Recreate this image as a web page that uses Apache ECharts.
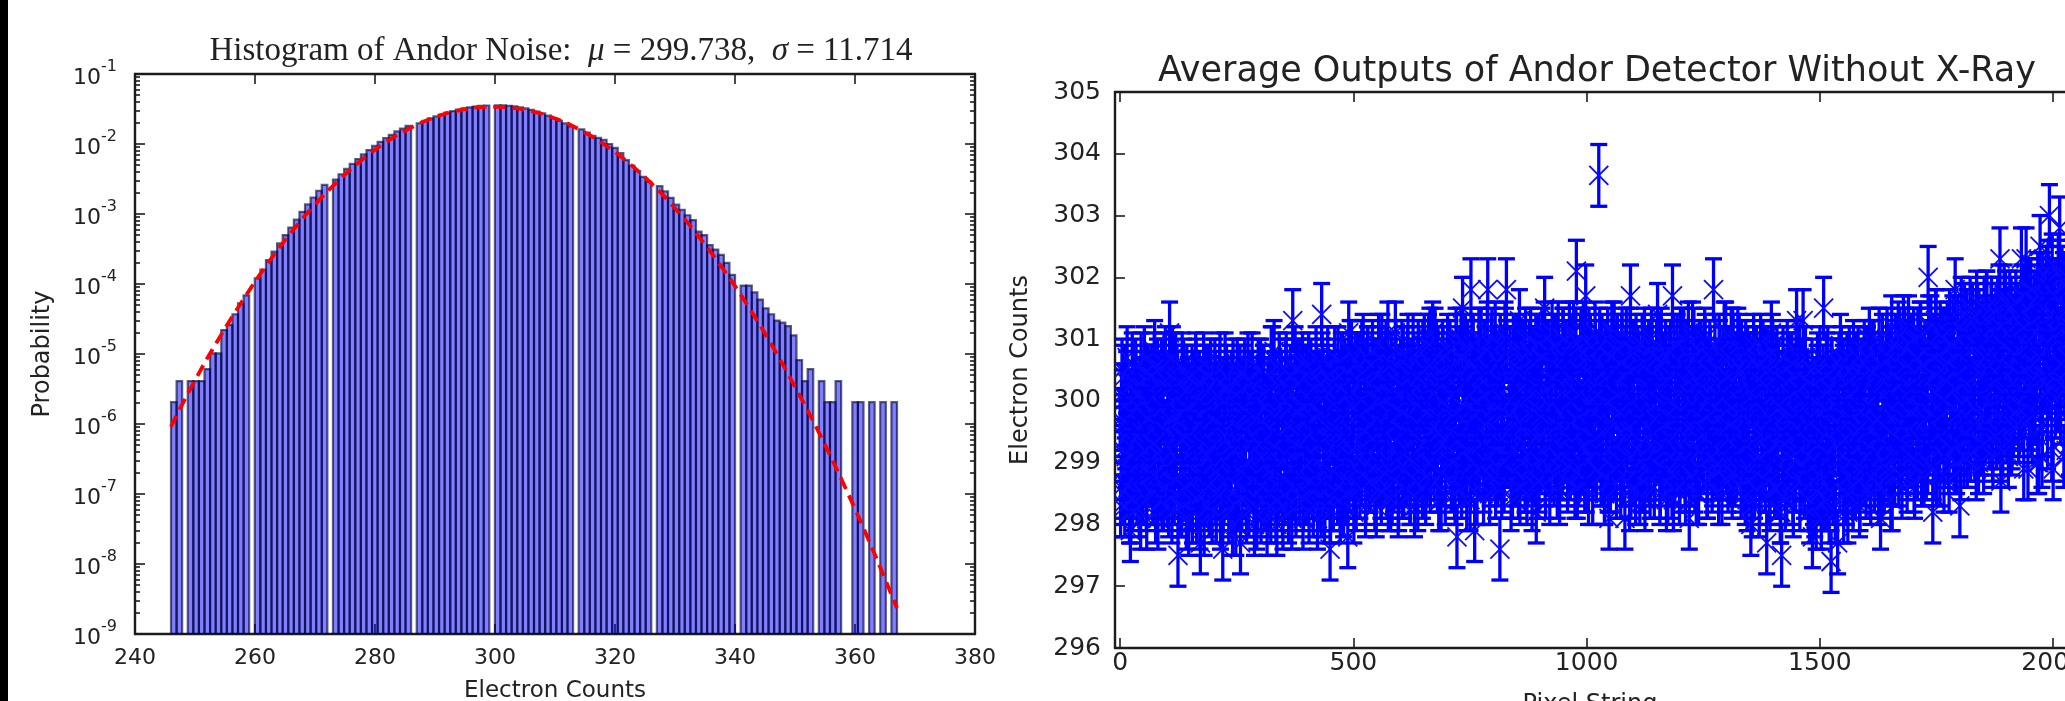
<!DOCTYPE html>
<html><head><meta charset="utf-8">
<script src="https://cdn.jsdelivr.net/npm/echarts@6/dist/echarts.min.js"></script>
<style>html,body{margin:0;padding:0;background:#fff;}#c{width:2065px;height:701px;}</style>
</head><body><div id="c"></div><script>
// ---------- Left chart: histogram (130 bins between 246 and 367, null = empty bin) ----------
const histStart = 246, histEnd = 367, histBinCount = 130;
const histDensity = [
  2.05e-6, 4.1e-6, null, 4.1e-6, 4.1e-6, 4.1e-6, 6.1e-6, 1.02e-5, 1.02e-5, 2.2e-5,
  2.6e-5, 3.7e-5, 5.3e-5, 6.9e-5, null, 1.2e-4, 1.6e-4, 2.2e-4, 2.9e-4, 3.8e-4,
  5.0e-4, 6.4e-4, 8.3e-4, 1.07e-3, 1.37e-3, 1.72e-3, 2.15e-3, 2.6e-3, null, 3.1e-3,
  3.7e-3, 4.4e-3, 5.2e-3, 6.1e-3, 7.1e-3, 8.2e-3, 9.4e-3, 0.0107, 0.0121, 0.0135,
  0.0151, 0.0166, 0.0182, null, 0.0198, 0.0215, 0.0232, 0.0248, 0.0264, 0.0280,
  0.0295, 0.0309, 0.0322, 0.0334, 0.0343, 0.0350, 0.0355, null, 0.0357, 0.0356,
  0.0352, 0.0345, 0.0335, 0.0322, 0.0308, 0.0291, 0.0273, 0.0254, 0.0235, 0.0216,
  0.0197, 0.0179, null, 0.0162, 0.0146, 0.0131, 0.0122, 0.0115, 0.0100, 0.0088,
  0.0074, 0.0059, 0.0049, 0.0041, 0.0034, 0.0029, null, 0.0025, 0.0021, 0.0017,
  0.00136, 0.00115, 0.00096, 0.00082, 0.00056, 0.00050, 0.00036, 0.00031, 0.00026, 0.00020,
  0.000135, null, 9.5e-5, 9.5e-5, 7.6e-5, 6.0e-5, 4.5e-5, 3.7e-5, 3.0e-5, 2.8e-5,
  2.5e-5, 1.85e-5, 8.2e-6, 4.1e-6, 6.1e-6, null, 4.1e-6, 2.05e-6, 2.05e-6, 4.1e-6,
  null, null, 2.05e-6, 2.05e-6, null, 2.05e-6, null, 2.05e-6, null, 2.05e-6
];
// red dashed fitted curve
const fitCounts  = [246, 250, 254, 258, 262, 266, 270, 274, 278, 282, 286, 290, 294, 298, 300, 302, 306, 310, 314, 318, 322, 326, 330, 334, 338, 342, 346, 350, 354, 358, 362, 366, 367];
const fitDensity = [9.2e-7, 4.2e-6, 1.67e-5, 5.9e-5, 1.9e-4, 5.4e-4, 1.36e-3, 3.05e-3, 6.1e-3, 0.0108, 0.0171, 0.0241, 0.0302, 0.0337, 0.0340, 0.0334, 0.0295, 0.0232, 0.0162, 0.0101, 5.6e-3, 2.76e-3, 1.21e-3, 4.7e-4, 1.64e-4, 5.1e-5, 1.4e-5, 3.4e-6, 7.5e-7, 1.45e-7, 2.5e-8, 3.8e-9, 2.35e-9];
const leftXTicks = [240, 260, 280, 300, 320, 340, 360, 380];
const leftYDecades = [1e-9, 1e-8, 1e-7, 1e-6, 1e-5, 1e-4, 1e-3, 1e-2, 1e-1];

// ---------- Right chart: average output of each pixel string, +/- error ----------
const errorHalf = 0.5;
// pixel strings 0, 2, 4, ... 2046
const outputsEvenStrings = [
299.7,298.6,300.5,299.2,300.0,298.3,299.4,300.3,298.9,299.6,298.2,297.9,299.1,300.6,298.7,299.8,299.3,300.4,298.5,299.9,299.0,300.2,298.1,299.5,300.0,298.8,300.7,299.2,298.4,299.7,300.3,299.0,
298.9,300.4,299.3,298.5,299.8,300.8,298.2,299.6,300.5,298.8,299.4,299.1,300.2,298.4,299.9,300.6,298.6,299.5,299.0,300.3,298.3,301.1,299.7,298.7,300.7,299.2,298.5,299.8,299.4,300.4,297.5,300.1,
300.1,299.0,298.3,299.8,300.5,298.6,299.4,298.1,299.9,300.2,298.9,299.5,298.4,300.4,299.2,298.7,300.0,300.6,298.2,299.6,298.8,300.3,297.7,298.5,299.7,299.3,298.0,300.2,299.9,298.6,299.5,300.4,
299.1,300.5,298.4,299.7,298.7,299.3,300.3,298.2,300.0,298.9,299.6,300.6,298.5,299.4,297.6,300.2,299.8,299.0,300.4,298.6,299.5,298.3,300.1,298.8,299.3,300.5,299.2,299.9,298.0,299.7,300.3,298.4,
299.9,297.7,299.5,300.2,298.8,300.4,299.0,298.5,299.7,300.6,298.3,299.3,300.0,298.7,300.3,299.1,298.0,299.8,299.4,298.4,300.5,298.9,300.1,298.2,299.6,298.6,300.4,299.2,299.9,299.0,298.3,300.2,
298.5,299.8,300.7,298.8,299.5,300.8,299.2,298.2,298.0,299.7,298.6,300.5,299.0,300.3,298.3,299.4,300.0,298.7,300.6,299.1,299.6,298.4,300.2,299.9,298.1,301.3,298.9,299.5,298.6,300.5,299.2,299.8,
300.5,298.8,299.4,300.2,298.1,299.9,299.2,300.4,298.5,299.7,300.6,299.0,298.7,300.0,299.5,298.3,300.3,299.1,300.7,298.6,299.8,299.3,300.1,298.4,301.4,300.5,298.9,298.2,300.2,299.4,298.8,300.4,
299.1,297.6,298.4,299.6,300.2,298.8,300.7,299.3,300.0,298.5,300.3,299.5,298.2,300.6,299.0,299.8,298.7,300.5,299.4,300.1,297.8,301.1,300.4,298.9,300.8,299.2,298.6,299.9,300.6,298.4,300.2,299.4,
299.8,298.6,300.3,300.8,299.2,299.5,300.5,298.3,300.1,300.7,298.9,299.9,298.7,299.6,300.6,299.1,300.2,298.4,300.4,299.7,299.3,300.9,298.8,300.0,298.5,300.5,299.4,300.3,299.0,300.8,298.6,301.1,
298.9,300.1,298.4,300.6,299.9,298.7,299.6,301.1,299.2,300.3,298.3,300.4,299.8,299.0,300.8,299.5,298.6,300.2,300.0,298.8,300.7,299.3,299.7,298.5,300.5,299.1,300.9,299.4,298.7,300.2,299.9,298.4,
300.7,299.6,298.9,300.3,298.6,300.1,300.9,299.2,299.8,298.8,300.6,299.4,301.0,299.0,299.9,301.1,300.5,299.7,299.1,300.8,298.7,300.2,299.5,300.4,298.4,300.0,300.7,299.3,300.3,298.9,299.8,300.9,
299.4,300.8,300.1,298.7,300.5,299.1,299.8,298.5,301.0,297.8,300.2,298.9,300.7,299.3,298.6,301.5,299.7,298.8,300.9,300.0,299.2,300.6,299.6,298.4,301.8,300.8,299.0,299.9,297.9,300.5,299.3,299.8,
300.5,298.9,299.9,301.0,299.3,300.1,298.7,300.7,299.6,300.8,301.8,300.4,298.5,300.2,300.9,299.5,299.0,299.9,301.1,299.2,300.0,298.8,300.6,297.6,300.3,298.6,300.7,299.8,299.1,301.0,301.8,299.3,
299.1,300.0,300.7,298.4,300.3,299.6,300.5,298.8,299.9,300.9,299.3,298.6,301.3,299.7,299.1,300.8,299.5,300.6,298.7,300.1,298.5,300.3,299.8,298.9,301.0,299.4,299.2,300.7,298.8,299.9,298.2,298.6,
300.2,298.7,300.7,299.5,301.0,299.1,299.8,301.5,298.6,300.0,300.8,299.3,300.6,298.9,299.9,301.1,299.4,298.8,300.3,300.9,299.6,299.1,300.7,298.5,300.1,300.5,299.0,301.0,299.7,299.2,300.8,299.5,
298.8,300.4,299.6,300.9,299.0,300.2,301.1,299.3,299.7,302.1,298.6,300.1,300.5,298.9,301.0,299.5,299.8,300.8,298.7,301.7,299.2,300.6,298.5,300.0,300.9,299.4,300.4,299.1,299.9,301.1,298.9,300.2,
300.3,303.65,301.0,299.7,298.8,300.6,300.0,298.5,300.8,299.4,300.4,298.7,298.1,300.7,299.2,301.1,299.6,298.9,300.5,300.1,298.6,300.9,299.3,299.8,300.6,299.0,301.0,299.5,300.2,298.1,300.7,299.7,
299.6,300.5,298.4,301.7,300.0,298.8,300.8,299.5,299.0,300.9,299.7,299.2,300.6,298.5,300.1,300.4,298.7,299.8,301.0,299.1,299.4,300.7,298.9,300.2,298.6,299.9,300.9,299.3,300.4,298.8,299.7,300.8,
301.4,299.3,300.0,298.6,301.0,299.6,298.9,300.4,299.2,300.7,299.9,298.5,300.3,299.4,300.8,298.8,301.7,298.4,299.7,300.5,299.0,300.9,299.5,300.1,298.7,300.6,299.1,299.8,301.0,299.2,298.5,300.3,
299.0,301.1,298.1,300.0,298.8,300.5,299.5,301.0,298.7,300.2,300.7,299.7,298.5,300.8,299.2,300.1,300.6,299.0,299.9,300.9,299.4,298.6,300.4,299.8,300.8,299.1,300.1,298.8,301.8,299.6,300.3,298.9,
299.9,299.2,300.9,298.9,300.3,298.5,300.7,299.8,299.4,301.1,299.0,300.4,299.6,298.8,300.6,301.0,298.6,300.9,299.3,300.5,299.7,298.9,301.0,299.2,300.2,299.5,300.8,298.7,299.8,300.6,298.5,300.4,
298.4,300.3,299.3,300.6,298.0,298.8,300.1,300.9,298.6,299.5,300.7,299.0,300.0,298.3,300.5,299.7,298.9,300.8,299.4,300.2,298.7,297.7,300.7,299.2,298.5,300.4,301.1,300.9,299.5,298.8,300.0,300.6,
300.7,299.3,298.6,299.9,298.2,297.5,298.9,299.6,300.3,298.4,299.8,300.8,299.1,298.8,300.1,299.4,300.6,298.5,299.7,300.4,299.0,301.3,300.2,299.2,300.7,299.5,298.7,300.0,301.3,300.5,298.9,299.7,
298.9,300.3,299.6,298.2,300.1,299.1,297.8,298.5,299.4,300.0,298.1,300.4,299.3,298.8,300.7,298.6,299.8,299.2,301.5,298.4,299.9,300.6,298.7,299.5,298.2,300.2,297.4,300.5,298.5,299.7,299.3,300.1,
300.3,297.7,300.0,299.6,300.9,300.7,299.1,300.4,298.5,299.8,299.4,300.6,298.2,300.1,299.0,300.5,299.7,298.7,300.8,299.2,298.6,300.2,298.9,300.7,299.5,298.4,299.9,300.4,299.3,298.8,300.6,299.1,
299.5,300.7,299.0,301.0,298.6,299.9,300.3,299.2,300.8,298.8,300.5,299.4,299.7,298.5,300.6,298.1,299.1,300.9,299.6,298.7,300.4,299.3,301.0,298.9,300.0,300.7,298.4,301.2,300.3,299.2,298.8,300.9,
300.5,299.6,301.1,299.1,300.0,300.8,298.6,300.3,299.3,301.0,299.7,300.6,298.9,301.2,299.5,299.8,300.9,299.2,300.4,298.7,300.7,300.1,299.0,301.0,299.4,299.9,301.1,298.8,300.2,300.6,299.3,299.7,
298.9,300.4,302.0,300.9,299.4,301.2,300.0,298.2,300.7,299.7,301.3,298.8,300.5,300.2,299.2,301.1,299.5,300.8,299.8,298.7,301.0,299.3,300.4,300.6,299.0,301.3,299.9,299.6,300.9,299.2,300.2,301.8,
300.5,299.3,301.2,299.8,298.3,298.9,300.8,300.3,299.5,301.4,300.0,301.1,299.1,300.6,299.7,301.5,299.4,300.2,301.3,299.9,299.2,300.9,301.6,301.4,299.0,300.7,301.1,299.6,300.4,299.3,301.5,299.8,
299.7,301.6,300.0,301.0,299.4,300.6,301.5,299.2,301.2,300.3,299.8,301.4,300.7,299.5,301.7,302.3,298.7,301.3,299.3,300.9,300.2,301.6,299.6,301.1,299.1,300.8,300.1,301.5,299.4,300.5,301.2,299.8,
301.6,300.1,300.7,299.5,301.3,300.4,302.3,299.7,300.9,301.7,299.9,302.3,301.5,298.9,301.1,300.2,301.8,299.6,301.2,300.6,299.8,301.6,300.3,299.0,301.7,300.8,302.5,301.4,299.1,301.9,300.4,301.1,
300.6,302.0,299.4,301.4,303.0,301.8,300.2,302.2,298.9,301.3,301.7,300.4,301.1,300.0,302.1,302.8,299.8,301.6,300.9,301.9,300.3,301.2,299.2,302.0,300.5,301.5,301.8,300.1,301.0,299.3,302.1,300.6
];
// pixel strings 1, 3, 5, ... 2047
const outputsOddStrings = [
298.3,300.1,299.6,298.5,300.4,298.9,299.1,300.7,298.6,299.5,300.0,298.2,299.8,298.4,300.3,299.2,300.5,298.8,299.4,300.1,298.3,299.0,300.6,299.6,298.5,300.2,299.3,300.0,298.1,300.4,299.7,298.8,
299.1,300.4,298.8,299.3,300.6,298.6,300.1,299.7,298.1,300.3,298.7,299.2,300.5,299.9,298.4,299.0,300.7,299.5,298.5,300.2,298.9,300.4,299.6,298.2,300.0,299.4,298.7,300.6,299.1,300.3,298.3,299.8,
299.7,298.4,300.6,299.4,298.6,299.9,298.9,300.4,299.5,298.0,300.1,298.7,299.8,298.2,300.3,299.3,299.0,300.5,298.4,300.0,299.6,298.1,300.2,299.2,298.8,300.6,299.7,298.5,300.4,299.1,299.9,298.3,
299.2,300.2,298.2,299.7,299.0,300.5,298.5,300.1,299.3,298.8,300.4,298.1,299.6,300.0,298.4,299.1,300.6,298.7,300.2,299.4,298.2,299.9,298.9,300.3,298.0,299.5,300.1,298.3,299.2,300.5,298.6,299.8,
300.4,299.3,298.4,300.0,298.9,300.5,299.5,298.2,299.8,298.5,300.3,299.0,298.7,300.6,299.4,298.3,300.0,299.7,298.1,300.2,298.8,299.3,300.5,298.6,299.1,300.4,298.4,299.6,299.9,298.0,300.1,299.2,
300.0,298.2,298.9,300.7,299.5,298.8,300.3,298.4,299.8,299.2,300.6,298.7,300.2,299.4,298.1,299.9,298.5,300.5,299.1,300.0,298.2,299.6,300.4,298.9,300.1,298.6,299.3,300.7,298.3,299.7,299.0,300.3,
298.5,299.9,299.2,300.6,298.4,299.7,298.7,300.4,299.4,300.0,298.2,299.0,300.5,299.5,298.6,300.2,299.7,298.8,300.4,298.1,299.3,300.3,299.8,298.3,300.6,299.1,300.1,298.4,299.6,298.9,300.7,298.6,
300.1,298.2,300.3,299.5,298.4,300.5,299.2,299.9,298.9,300.7,298.6,299.4,300.2,299.0,300.6,298.3,299.7,300.3,298.5,299.3,300.1,298.7,300.8,299.1,299.5,300.4,298.2,300.0,298.6,300.6,298.9,299.6,
300.6,300.0,298.8,299.5,300.9,299.1,300.4,298.5,299.2,300.7,299.9,298.7,300.2,299.4,300.8,298.9,299.7,300.5,298.3,300.0,299.0,300.7,299.5,298.6,300.9,300.1,298.8,299.6,300.6,299.3,300.3,298.4,
299.8,299.0,300.6,298.5,300.1,298.8,299.6,300.8,299.3,300.3,298.4,299.1,300.5,299.8,298.6,300.7,299.5,300.2,298.9,299.2,300.9,299.9,298.5,300.4,299.7,299.0,300.6,298.3,300.0,298.7,299.4,300.8,
300.4,299.6,300.0,298.8,300.8,299.3,300.5,298.5,299.8,299.0,300.9,300.2,298.7,300.6,299.5,300.1,298.9,301.0,299.1,299.6,300.7,298.4,300.3,299.7,298.8,300.8,299.4,300.4,298.5,299.9,300.6,299.2,
299.3,300.8,299.0,299.5,300.6,300.1,298.6,299.7,300.9,299.1,300.4,298.8,299.4,301.0,298.9,299.9,300.7,299.2,300.3,298.4,300.8,299.6,300.0,298.7,300.6,299.3,300.9,299.0,299.8,300.2,298.5,300.5,
301.0,298.9,299.3,300.4,299.9,298.5,300.8,300.1,299.0,301.1,299.4,300.5,298.8,299.7,301.0,299.2,300.2,300.7,298.6,299.8,299.5,300.6,298.9,300.9,299.3,300.4,300.0,298.7,301.1,299.1,300.8,299.6,
299.5,299.1,300.4,300.0,298.6,300.9,299.7,299.2,300.8,298.8,299.9,300.5,298.5,300.2,299.0,300.7,299.6,299.3,301.0,298.7,300.4,299.5,300.8,299.1,300.1,298.4,300.6,299.8,298.9,300.9,299.4,300.3,
300.9,300.0,299.0,300.7,299.4,299.7,301.1,298.8,300.4,300.2,299.1,300.8,298.5,299.6,300.6,299.3,300.9,299.0,300.0,300.3,298.6,301.1,299.5,300.5,298.9,299.8,301.0,299.2,300.7,299.7,300.2,298.7,
299.4,301.1,298.9,300.0,299.2,300.7,300.3,298.6,301.0,299.7,300.5,298.8,299.5,300.9,299.8,299.0,301.1,299.3,300.2,298.7,300.7,299.6,301.0,299.1,299.9,300.4,298.5,300.6,299.4,300.8,298.9,300.1,
299.2,300.6,299.9,298.8,300.9,299.5,300.2,298.5,300.5,299.0,301.0,299.6,300.3,298.7,300.7,299.9,299.3,301.1,298.9,300.1,300.8,299.2,299.7,300.6,298.6,300.9,300.0,298.8,300.4,299.4,301.0,299.1,
300.2,299.5,301.0,298.6,300.5,299.1,299.9,300.8,298.5,299.4,300.7,298.9,299.7,300.3,298.7,300.9,299.3,300.2,298.4,300.6,299.6,299.0,300.8,300.0,298.8,301.0,299.5,300.4,298.6,299.8,299.2,300.7,
299.4,300.9,298.5,299.8,298.9,300.6,300.3,299.3,300.8,298.4,300.0,299.1,300.7,299.7,300.4,298.6,299.5,300.9,298.8,299.9,299.2,300.5,300.1,298.5,301.0,299.0,300.6,299.6,300.2,298.7,300.8,299.4,
299.4,300.7,300.1,298.8,299.6,301.1,299.2,300.4,299.9,298.5,300.6,299.4,300.3,298.9,300.8,299.7,300.2,299.1,301.0,299.5,300.5,298.6,300.0,299.3,300.7,299.8,298.7,300.4,299.6,300.9,299.0,300.1,
300.5,298.5,300.8,299.8,300.2,298.9,299.6,301.1,299.1,300.1,300.4,298.7,300.7,299.4,299.9,299.0,301.0,300.3,298.8,300.6,299.5,299.8,299.2,300.9,300.0,298.6,300.5,300.2,298.9,299.7,300.8,299.3,
300.7,299.8,298.9,300.2,300.5,298.3,299.6,300.0,298.8,299.4,300.6,299.1,299.9,298.5,300.9,300.3,299.0,299.5,300.7,298.7,299.8,299.2,300.5,300.2,298.4,299.7,298.9,300.8,300.1,298.6,299.3,300.4,
298.6,300.5,299.9,298.2,300.1,299.4,300.7,299.5,299.0,300.3,298.5,299.7,298.8,300.6,299.2,300.0,300.4,298.3,299.6,298.7,300.8,299.8,299.1,300.2,298.4,300.5,299.5,298.9,299.9,298.6,300.7,299.3,
300.3,298.4,299.1,300.0,299.3,300.5,298.7,299.7,298.3,300.2,299.0,300.6,298.5,299.5,299.9,298.1,299.2,300.4,298.8,300.1,299.4,298.4,300.7,299.8,298.6,299.1,300.5,298.9,300.3,299.6,298.2,300.0,
299.9,299.3,300.6,298.7,299.6,299.0,300.5,298.2,300.0,300.3,298.5,299.7,299.2,300.7,298.8,300.1,299.5,298.4,300.4,299.1,300.6,298.7,299.8,300.2,298.3,299.3,300.5,299.6,298.9,300.8,299.9,298.6,
300.7,299.1,299.7,300.5,298.5,299.2,300.8,299.9,298.7,300.4,299.6,300.1,298.9,301.0,299.4,300.6,298.6,299.8,300.3,299.0,299.3,300.9,300.0,298.8,300.7,299.5,300.2,298.4,300.5,299.7,299.1,300.8,
299.8,300.6,298.8,301.0,300.3,299.0,299.6,301.2,299.3,300.8,300.1,298.7,300.5,299.8,300.9,299.1,300.2,299.4,301.0,298.6,299.9,300.7,298.9,300.4,299.7,301.1,299.2,300.6,300.0,298.8,300.8,299.5,
300.5,299.0,301.2,299.4,300.7,299.8,300.9,298.9,300.4,299.2,301.3,299.7,300.1,300.8,298.8,300.6,299.5,301.0,300.0,299.1,300.3,299.3,301.1,300.5,298.7,300.9,299.9,299.6,301.2,300.7,299.0,300.2,
299.0,300.5,300.8,299.3,300.0,301.5,299.7,301.1,299.1,300.3,299.9,301.3,299.4,300.6,300.8,299.2,300.1,301.4,299.6,300.4,301.0,298.9,300.9,299.8,301.3,300.2,299.3,300.5,301.2,299.0,300.7,299.5,
301.6,300.5,299.6,301.0,300.0,301.4,300.7,299.1,301.1,300.2,300.9,299.4,301.5,299.8,300.4,301.2,299.2,300.6,299.7,301.7,300.1,301.3,299.5,300.5,299.9,301.6,300.8,299.3,301.0,299.6,300.3,301.4,
300.7,300.2,301.4,299.6,300.8,299.9,301.7,301.2,298.9,300.5,301.5,300.1,300.9,301.8,299.7,300.6,301.3,299.5,300.2,301.6,299.8,301.1,300.4,301.9,299.0,300.7,300.0,301.4,299.6,301.0,301.7,300.3,
300.4,300.8,302.1,300.2,300.9,301.8,299.2,301.4,300.5,301.7,299.9,301.1,300.3,302.2,301.0,300.1,300.6,302.0,301.3,299.1,301.5,300.2,301.9,300.7,301.8,299.3,301.2,301.0,302.1,300.0,300.8,301.6
];
const rightXTicks = [0, 500, 1000, 1500, 2000];
const rightYTicks = [296, 297, 298, 299, 300, 301, 302, 303, 304, 305];

// ---------- build ----------
const FONT = 'DejaVu Sans';
const AX = '#1c1c1c';
const TXT = '#222222';
const binW = (histEnd - histStart) / histBinCount;
const histData = [];
histDensity.forEach(function (v, k) {
  if (v != null) histData.push([histStart + (k + 0.5) * binW, v, k]);
});
const fitData = fitCounts.map(function (x, i) { return [x, fitDensity[i]]; });
const errData = [];
outputsEvenStrings.forEach(function (v, i) { errData.push([2 * i, v, errorHalf]); });
outputsOddStrings.forEach(function (v, i) { errData.push([2 * i + 1, v, errorHalf]); });
errData.sort(function (a, b) { return a[0] - b[0]; });
const leftYMinor = [];
leftYDecades.slice(0, -1).forEach(function (d) { for (let m = 2; m <= 9; m++) leftYMinor.push(m * d); });

const spine = {onZero: false, lineStyle: {color: AX, width: 2.4}};
const tickLine = {color: AX, width: 1.6};

function renderBar(params, api) {
  const k = api.value(2);
  const x0 = histStart + k * binW, x1 = x0 + binW;
  const p0 = api.coord([x0, api.value(1)]);
  const p1 = api.coord([x1, 1e-9]);
  return {type: 'rect', shape: {x: p0[0], y: p0[1], width: p1[0] - p0[0], height: p1[1] - p0[1]},
    style: {fill: 'rgba(0,0,255,0.5)', stroke: 'rgba(0,0,50,0.62)', lineWidth: 2.2}};
}
function renderErr(params, api) {
  const x = api.value(0), v = api.value(1), e = api.value(2);
  const c = api.coord([x, v]), t = api.coord([x, v + e]), b = api.coord([x, v - e]);
  const cw = 8.5, m = 9.5;
  const s = {stroke: '#0000ff', lineWidth: 3.3};
  const sm = {stroke: '#0a0aff', lineWidth: 1.8};
  return {type: 'group', children: [
    {type: 'line', shape: {x1: c[0], y1: t[1], x2: c[0], y2: b[1]}, style: s},
    {type: 'line', shape: {x1: c[0] - cw, y1: t[1], x2: c[0] + cw, y2: t[1]}, style: s},
    {type: 'line', shape: {x1: c[0] - cw, y1: b[1], x2: c[0] + cw, y2: b[1]}, style: s},
    {type: 'line', shape: {x1: c[0] - m, y1: c[1] - m, x2: c[0] + m, y2: c[1] + m}, style: sm},
    {type: 'line', shape: {x1: c[0] - m, y1: c[1] + m, x2: c[0] + m, y2: c[1] - m}, style: sm}
  ]};
}

const chart = echarts.init(document.getElementById('c'), null, {renderer: 'canvas', width: 2065, height: 701});
const serif = {fontFamily: 'Liberation Serif', fontSize: 33, fontWeight: 'normal', color: TXT};
const option = {
  animation: false,
  backgroundColor: '#ffffff',
  title: [
    {text: '{n|Histogram of Andor Noise:}  {i|μ}{n| = 299.738,  }{i|σ}{n| = 11.714}',
     left: 561, top: 35, padding: 0, textAlign: 'center',
     textStyle: {fontWeight: 'normal', fontFamily: 'Liberation Serif', fontSize: 33, color: TXT,
       rich: {n: serif, i: Object.assign({}, serif, {fontStyle: 'italic'})}}},
    {text: 'Average Outputs of Andor Detector Without X-Ray', left: 1597, top: 54, padding: 0, textAlign: 'center',
     textStyle: {fontFamily: FONT, fontSize: 35, fontWeight: 'normal', color: TXT}}
  ],
  grid: [
    {left: 135, top: 74, width: 840, height: 560, containLabel: false, outerBoundsMode: 'none'},
    {left: 1115, top: 92, width: 950, height: 556, containLabel: false, outerBoundsMode: 'none'}
  ],
  xAxis: [
    {gridIndex: 0, type: 'value', min: 240, max: 380, interval: 20, position: 'bottom',
     axisLine: spine, axisTick: {inside: true, length: 10, lineStyle: tickLine},
     axisLabel: {customValues: leftXTicks, fontFamily: FONT, fontSize: 22, color: TXT, margin: 13},
     splitLine: {show: false},
     name: 'Electron Counts', nameLocation: 'middle', nameGap: 46,
     nameTextStyle: {fontFamily: FONT, fontSize: 23, color: TXT, verticalAlign: 'top'}},
    {gridIndex: 0, type: 'value', min: 240, max: 380, interval: 20, position: 'top',
     axisLine: spine, axisTick: {inside: true, length: 10, lineStyle: tickLine},
     axisLabel: {show: false}, splitLine: {show: false}},
    {gridIndex: 1, type: 'value', min: -11, max: 2025.4, position: 'bottom',
     axisLine: spine, axisTick: {inside: true, length: 10, customValues: rightXTicks, lineStyle: tickLine},
     axisLabel: {customValues: rightXTicks, fontFamily: FONT, fontSize: 25, color: TXT, margin: 3,
       formatter: function (v) { return String(v); }},
     splitLine: {show: false},
     name: 'Pixel String', nameLocation: 'middle', nameGap: 45,
     nameTextStyle: {fontFamily: FONT, fontSize: 24, color: TXT, verticalAlign: 'top'}},
    {gridIndex: 1, type: 'value', min: -11, max: 2025.4, position: 'top',
     axisLine: spine, axisTick: {inside: true, length: 10, customValues: rightXTicks, lineStyle: tickLine},
     axisLabel: {show: false}, splitLine: {show: false}}
  ],
  yAxis: [
    {gridIndex: 0, type: 'log', logBase: 10, min: 1e-9, max: 1e-1, position: 'left',
     axisLine: spine, axisTick: {inside: true, length: 10, customValues: leftYDecades, lineStyle: tickLine},
     axisLabel: {customValues: leftYDecades, margin: 18,
       formatter: function (v) { return '{b|10}{s|' + Math.round(Math.log10(v)) + '}'; },
       rich: {b: {fontFamily: FONT, fontSize: 22, color: TXT, lineHeight: 30, verticalAlign: 'bottom'},
              s: {fontFamily: FONT, fontSize: 16, color: TXT, lineHeight: 16, verticalAlign: 'top'}}},
     splitLine: {show: false},
     name: 'Probability', nameLocation: 'middle', nameGap: 80,
     nameTextStyle: {fontFamily: FONT, fontSize: 24, color: TXT}},
    {gridIndex: 0, type: 'log', logBase: 10, min: 1e-9, max: 1e-1, position: 'left',
     axisLine: {show: false}, axisTick: {inside: true, length: 5, customValues: leftYMinor, lineStyle: tickLine},
     axisLabel: {show: false}, splitLine: {show: false}},
    {gridIndex: 0, type: 'log', logBase: 10, min: 1e-9, max: 1e-1, position: 'right',
     axisLine: spine, axisTick: {inside: true, length: 10, customValues: leftYDecades, lineStyle: tickLine},
     axisLabel: {show: false}, splitLine: {show: false}},
    {gridIndex: 0, type: 'log', logBase: 10, min: 1e-9, max: 1e-1, position: 'right',
     axisLine: {show: false}, axisTick: {inside: true, length: 5, customValues: leftYMinor, lineStyle: tickLine},
     axisLabel: {show: false}, splitLine: {show: false}},
    {gridIndex: 1, type: 'value', min: 296, max: 305, interval: 1, position: 'left',
     axisLine: spine, axisTick: {inside: true, length: 10, lineStyle: tickLine},
     axisLabel: {customValues: rightYTicks, fontFamily: FONT, fontSize: 25, color: TXT, margin: 14},
     splitLine: {show: false},
     name: 'Electron Counts', nameLocation: 'middle', nameGap: 82,
     nameTextStyle: {fontFamily: FONT, fontSize: 24, color: TXT}}
  ],
  series: [
    {type: 'custom', xAxisIndex: 0, yAxisIndex: 0, data: histData, encode: {x: 0, y: 1},
     renderItem: renderBar, clip: true, silent: true, z: 2},
    {type: 'line', xAxisIndex: 0, yAxisIndex: 0, data: fitData, smooth: true, symbol: 'none',
     lineStyle: {color: '#ff0000', width: 3.8, type: [12, 7]}, silent: true, z: 3},
    {type: 'custom', xAxisIndex: 2, yAxisIndex: 4, data: errData, encode: {x: 0, y: 1},
     renderItem: renderErr, clip: true, silent: true, z: 2}
  ],
  graphic: [{type: 'rect', shape: {x: 0, y: 0, width: 8, height: 701}, style: {fill: '#000'}, z: 100}]
};
chart.setOption(option);
</script></body></html>
